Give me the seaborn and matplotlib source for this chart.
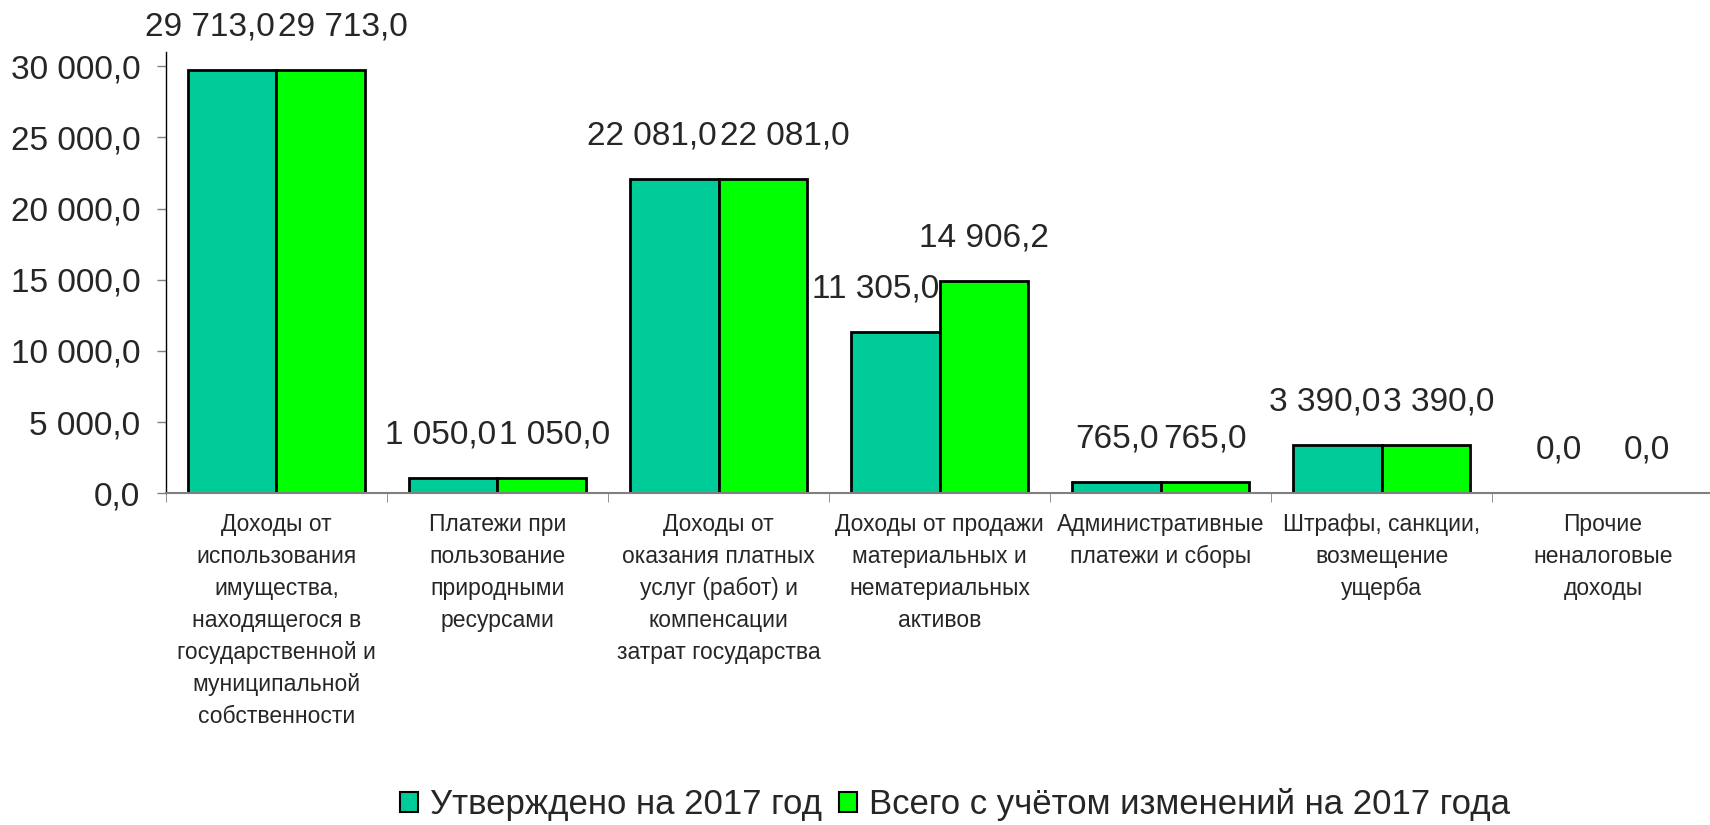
import numpy as np
import matplotlib.pyplot as plt
import pandas as pd
import seaborn as sns
from matplotlib.patches import Patch
from matplotlib import font_manager

categories = [
    'Доходы от\nиспользования\nимущества,\nнаходящегося в\nгосударственной и\nмуниципальной\nсобственности',
    'Платежи при\nпользование\nприродными\nресурсами',
    'Доходы от\nоказания платных\nуслуг (работ) и\nкомпенсации\nзатрат государства',
    'Доходы от продажи\nматериальных и\nнематериальных\nактивов',
    'Административные\nплатежи и сборы',
    'Штрафы, санкции,\nвозмещение\nущерба',
    'Прочие\nненалоговые\nдоходы',
]
series_names = ['Утверждено на 2017 год', 'Всего с учётом изменений на 2017 года']
approved = [29713.0, 1050.0, 22081.0, 11305.0, 765.0, 3390.0, 0.0]
total = [29713.0, 1050.0, 22081.0, 14906.2, 765.0, 3390.0, 0.0]
colors = ['#00CC99', '#00FF00']


def fmt(v):
    return f'{v:,.1f}'.replace(',', ' ').replace('.', ',')


df = pd.DataFrame({
    'cat': categories * 2,
    'series': [series_names[0]] * len(categories) + [series_names[1]] * len(categories),
    'value': approved + total,
})

sns.set_style('white')
plt.rcParams['font.family'] = ['Liberation Sans', 'DejaVu Sans']

# узкий шрифт для подписей категорий, если он есть
names = {f.name for f in font_manager.fontManager.ttflist}
if 'Liberation Sans Narrow' in names:
    cat_font, cat_size = ['Liberation Sans Narrow', 'DejaVu Sans'], 20
else:
    cat_font, cat_size = ['Liberation Sans', 'DejaVu Sans'], 16.5

fig = plt.figure(figsize=(17.1, 8.25), dpi=100)
ax = fig.add_axes([0.097, 0.402, 0.905, 0.535])

sns.barplot(data=df, x='cat', y='value', hue='series', palette=colors,
            width=0.8, edgecolor='black', linewidth=2, saturation=1,
            legend=False, ax=ax)

ax.set_ylim(0, 31000)
ax.set_xlim(-0.5, len(categories) - 0.5)
ax.set_yticks(np.arange(0, 30001, 5000))
ax.set_yticklabels([fmt(v) for v in np.arange(0, 30001, 5000)], fontsize=24)
ax.tick_params(axis='y', length=6.5, width=1, color='#808080', left=True, pad=12)

ax.set_xticks(range(len(categories)))
ax.set_xticklabels(categories, fontsize=cat_size, family=cat_font,
                   linespacing=1.5, va='top')
ax.tick_params(axis='x', which='major', length=0, pad=14)
ax.set_xticks(np.arange(-0.5, len(categories), 1), minor=True)
ax.tick_params(axis='x', which='minor', length=6.5, color='#808080', bottom=True)

ax.set_xlabel('')
ax.set_ylabel('')
for s in ['top', 'right']:
    ax.spines[s].set_visible(False)
ax.spines['left'].set_color('black')
ax.spines['left'].set_linewidth(1)
ax.spines['bottom'].set_color('#808080')
ax.spines['bottom'].set_linewidth(1.5)

# подписи значений
bars_l = list(ax.containers[0])
bars_r = list(ax.containers[1])
texts_l, texts_r = [], []
for bars, texts in [(bars_l, texts_l), (bars_r, texts_r)]:
    for bar in bars:
        h = bar.get_height()
        t = ax.annotate(fmt(h), (bar.get_x() + bar.get_width() / 2, h),
                        xytext=(0, 31), textcoords='offset points',
                        ha='center', va='center', fontsize=24)
        texts.append(t)

# раздвигаем подписи, чтобы не налезали друг на друга и на соседний столбик
fig.canvas.draw()
r = fig.canvas.get_renderer()
gap = 3
px2pt = 72 / fig.dpi
for tl, tr, br in zip(texts_l, texts_r, bars_r):
    el = tl.get_window_extent(r)
    er = tr.get_window_extent(r)
    sl = sr = 0.0
    if el.y1 > er.y0 and er.y1 > el.y0 and el.x1 > er.x0 - gap:
        ov = el.x1 - er.x0 + gap
        sl, sr = -ov / 2, ov / 2
    eb = br.get_window_extent(r)
    if eb.y1 > el.y0 and el.x1 + sl > eb.x0:
        sl = eb.x0 - el.x1
    tl.xyann = (sl * px2pt, 31)
    tr.xyann = (sr * px2pt, 31)

handles = [Patch(facecolor=c, edgecolor='black', linewidth=1.5) for c in colors]
ax.legend(handles, series_names, loc='center', bbox_to_anchor=(0.51, -0.705),
          ncol=2, frameon=False, fontsize=25, handlelength=0.5, handleheight=0.5,
          handletextpad=0.35, columnspacing=0.5)

fig.savefig('out.png', dpi=100)
